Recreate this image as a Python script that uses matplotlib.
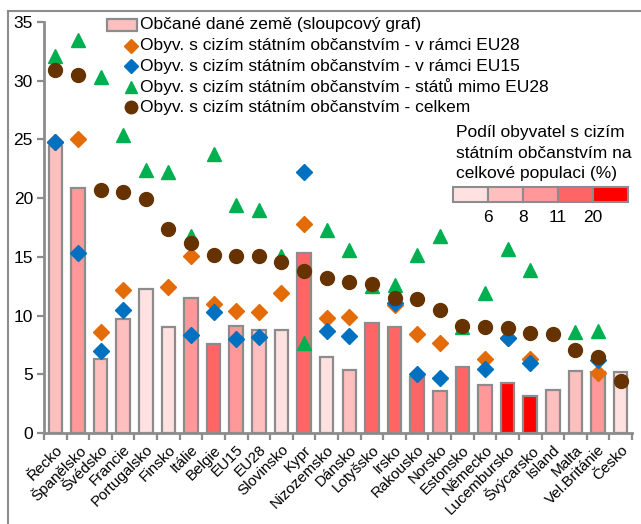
import numpy as np
import matplotlib
matplotlib.use("Agg")
import matplotlib.pyplot as plt
from matplotlib.patches import Rectangle
from matplotlib.lines import Line2D

plt.rcParams['font.family'] = ['Liberation Sans', 'DejaVu Sans']

categories = ["Řecko", "Španělsko", "Švédsko", "Francie", "Portugalsko", "Finsko", "Itálie",
              "Belgie", "EU15", "EU28", "Slovinsko", "Kypr", "Nizozemsko", "Dánsko", "Lotyšsko",
              "Irsko", "Rakousko", "Norsko", "Estonsko", "Německo", "Lucembursko", "Švýcarsko",
              "Island", "Malta", "Vel.Británie", "Česko"]

nan = np.nan
citizens = [24.4, 20.9, 6.3, 9.7, 12.3, 9.0, 11.5, 7.6, 9.1, 8.8, 8.8, 15.3, 6.5, 5.4, 9.35,
            9.0, 4.8, 3.6, 5.6, 4.1, 4.25, 3.15, 3.7, 5.3, 5.2, 5.2]
color_class = [1, 2, 1, 1, 0, 0, 2, 3, 2, 1, 0, 3, 0, 1, 3, 3, 3, 2, 3, 2, 4, 4, 1, 1, 2, 0]
eu28 = [24.8, 25.0, 8.6, 12.2, nan, 12.4, 15.1, 11.0, 10.4, 10.3, 11.9, 17.8, 9.8, 9.9, nan,
        10.9, 8.4, 7.65, nan, 6.3, 8.1, 6.3, nan, nan, 5.1, nan]
eu15 = [24.8, 15.3, 7.0, 10.5, nan, nan, 8.35, 10.3, 8.0, 8.2, nan, 22.2, 8.7, 8.25, nan,
        11.1, 5.0, 4.7, nan, 5.45, 8.1, 6.0, nan, nan, 6.2, nan]
non_eu = [32.1, 33.5, 30.3, 25.4, 22.4, 22.2, 16.8, 23.8, 19.4, 19.0, 15.1, 7.7, 17.3, 15.55,
          12.5, 12.6, 15.2, 16.8, 9.0, 11.9, 15.7, 13.9, nan, 8.6, 8.7, nan]
total = [30.95, 30.5, 20.7, 20.5, 19.9, 17.4, 16.2, 15.2, 15.1, 15.05, 14.6, 13.8, 13.2, 12.9,
         12.7, 11.5, 11.4, 10.45, 9.1, 9.0, 8.9, 8.5, 8.4, 7.05, 6.5, 4.45]

class_colors = ["#FFE1E1", "#FFBFBF", "#FF9999", "#FF6565", "#FF0000"]
class_labels = ["6", "8", "11", "20"]
yticks = [0, 5, 10, 15, 20, 25, 30, 35]

legend_labels = ["Občané dané země (sloupcový graf)",
                 "Obyv. s cizím státním občanstvím - v rámci EU28",
                 "Obyv. s cizím státním občanstvím - v rámci EU15",
                 "Obyv. s cizím státním občanstvím - států mimo EU28",
                 "Obyv. s cizím státním občanstvím - celkem"]
legend2_lines = ["Podíl obyvatel s cizím", "státním občanstvím na", "celkové populaci (%)"]

W, H = 641, 524
fig = plt.figure(figsize=(W / 100, H / 100), dpi=100)

def fx(x):
    return x / W

def fy(y):
    return 1 - y / H

ax = fig.add_axes([fx(44), fy(433), fx(632) - fx(44), fy(22) - fy(433)])

grey = "#8C8C8C"
c_eu28, c_eu15, c_non, c_tot = "#E36C09", "#0070C0", "#00B050", "#663300"
x = np.arange(len(categories))
bar_cols = [class_colors[c] for c in color_class]
ax.bar(x, citizens, width=0.6, color=bar_cols, edgecolor=grey, linewidth=1.6, zorder=2)

ax.plot(x, eu28, linestyle="none", marker="D", color=c_eu28, markersize=8, zorder=3)
ax.plot(x, eu15, linestyle="none", marker="D", color=c_eu15, markersize=8, zorder=4)
ax.plot(x, non_eu, linestyle="none", marker="^", color=c_non, markersize=10, zorder=5)
ax.plot(x, total, linestyle="none", marker="o", color=c_tot, markersize=10, zorder=6)

ax.set_xlim(-0.5, len(categories) - 0.5)
ax.set_ylim(0, 35)
ax.set_yticks(yticks)
ax.set_yticklabels([str(v) for v in yticks], fontsize=12.5)
ax.set_xticks(x)
ax.set_xticklabels(categories, rotation=45, ha="right", rotation_mode="anchor", fontsize=11)
ax.set_xticks(np.arange(len(categories) + 1) - 0.5, minor=True)
ax.tick_params(axis="x", which="major", length=0, pad=7)
ax.tick_params(axis="x", which="minor", length=5, color=grey, width=1.6, direction="out")
ax.tick_params(axis="y", length=5, color=grey, width=1.6, direction="out", pad=3)
for s in ["top", "right"]:
    ax.spines[s].set_visible(False)
for s in ["left", "bottom"]:
    ax.spines[s].set_color(grey)
    ax.spines[s].set_linewidth(2)

# outer chart frame
fig.add_artist(Line2D([fx(8), fx(8)], [fy(11), 0], color=grey, linewidth=1.5))
fig.add_artist(Line2D([fx(8), 1], [fy(11), fy(11)], color=grey, linewidth=1.5))

# main legend (drawn manually to match the layout)
row_y = [25 + 20.6 * i for i in range(len(legend_labels))]
fig.add_artist(Rectangle((fx(107), fy(row_y[0] + 6)), fx(30), fy(row_y[0] - 6) - fy(row_y[0] + 6),
                         facecolor=class_colors[1], edgecolor=grey, linewidth=1.6))
legend_markers = [("D", c_eu28, 7), ("D", c_eu15, 7), ("^", c_non, 9), ("o", c_tot, 9)]
for (m, c, ms), yy in zip(legend_markers, row_y[1:]):
    fig.add_artist(Line2D([fx(131)], [fy(yy)], linestyle="none", marker=m, color=c, markersize=ms))
for lab, yy in zip(legend_labels, row_y):
    fig.text(fx(140), fy(yy), lab, fontsize=12.5, ha="left", va="center")

# color-class legend
for i, line in enumerate(legend2_lines):
    fig.text(fx(456), fy(133 + 20 * i), line, fontsize=12.5, ha="left", va="center")
bx0, bw = 453, 35
for i, c in enumerate(class_colors):
    fig.add_artist(Rectangle((fx(bx0 + i * bw), fy(202)), fx(bw), fy(187) - fy(202),
                             facecolor=c, edgecolor=grey, linewidth=1.5))
for i, lab in enumerate(class_labels):
    fig.text(fx(bx0 + (i + 1) * bw), fy(217), lab, fontsize=12.5, ha="center", va="center")

fig.savefig("out.png", dpi=100)
